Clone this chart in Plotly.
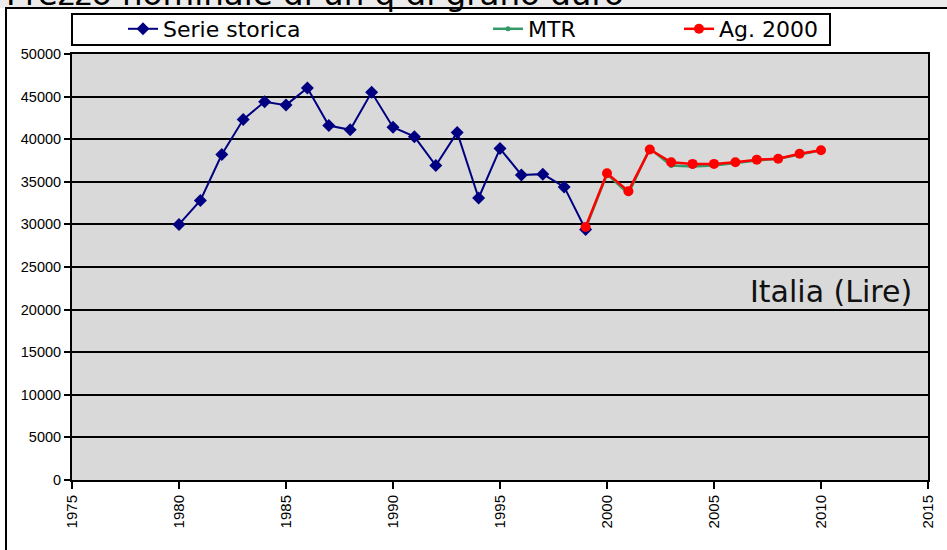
import plotly.graph_objects as go

years_hist = list(range(1980, 2000))
serie_storica = [30000, 32800, 38200, 42300, 44400, 44000, 46000, 41600, 41100, 45500,
                 41400, 40300, 36900, 40800, 33100, 38900, 35800, 35900, 34400, 29400]

years_fore = list(range(1999, 2011))
mtr = [29500, 35900, 33600, 38900, 36900, 36800, 36900, 37200, 37500, 37700, 38200, 38700]
ag2000 = [29700, 36000, 33900, 38800, 37300, 37100, 37100, 37300, 37600, 37700, 38300, 38700]

x_ticks = list(range(1975, 2016, 5))
y_ticks = list(range(0, 50001, 5000))

title_text = "Prezzo nominale di un q di grano duro"
region_text = "Italia (Lire)"

W, H = 947, 550
L, R, T, B = 72, 928, 54, 480
pw, ph = R - L, B - T


def px(x):
    return (x - L) / pw


def py(y):
    return (B - y) / ph


fig = go.Figure()

fig.add_trace(go.Scatter(
    x=years_hist, y=serie_storica, name="Serie storica", mode="lines+markers",
    line=dict(color="#000080", width=2),
    marker=dict(symbol="diamond", size=10, color="#000080"),
    legend="legend"))

fig.add_trace(go.Scatter(
    x=years_fore, y=mtr, name="MTR", mode="lines+markers",
    line=dict(color="#339966", width=2.5),
    marker=dict(symbol="circle", size=5, color="#339966"),
    legend="legend2"))

fig.add_trace(go.Scatter(
    x=years_fore, y=ag2000, name="Ag. 2000", mode="lines+markers",
    line=dict(color="#ff0000", width=2.5),
    marker=dict(symbol="circle", size=10, color="#ff0000"),
    legend="legend3"))

legend_font = dict(family="DejaVu Sans", size=22, color="black")
leg_common = dict(orientation="h", xanchor="left", yanchor="middle",
                  bgcolor="rgba(0,0,0,0)", borderwidth=0, font=legend_font,
                  itemwidth=30)

shapes = [
    # gray strip at top
    dict(type="rect", xref="paper", yref="paper", x0=px(-5), x1=px(960),
         y0=py(8), y1=py(-5), fillcolor="#ebebeb", line=dict(width=0), layer="below"),
    # outer frame
    dict(type="rect", xref="paper", yref="paper", x0=px(6), x1=px(970),
         y0=py(570), y1=py(8), fillcolor="rgba(0,0,0,0)",
         line=dict(color="black", width=2)),
    # legend box
    dict(type="rect", xref="paper", yref="paper", x0=px(72), x1=px(830),
         y0=py(45), y1=py(14), fillcolor="white",
         line=dict(color="black", width=2)),
]

annotations = [
    dict(text=title_text, xref="paper", yref="paper", x=px(4), y=py(-6),
         xanchor="left", yanchor="middle", showarrow=False,
         font=dict(family="DejaVu Sans", size=32.5, color="black")),
    dict(text=region_text, xref="paper", yref="paper", x=px(914), y=py(291),
         xanchor="right", yanchor="middle", showarrow=False,
         font=dict(family="DejaVu Sans", size=30, color="#111111")),
]

fig.update_layout(
    width=W, height=H,
    margin=dict(l=L, r=W - R, t=T, b=H - B, autoexpand=False),
    paper_bgcolor="white",
    plot_bgcolor="#d9d9d9",
    showlegend=True,
    legend=dict(x=px(123), y=py(29), **leg_common),
    legend2=dict(x=px(488), y=py(29), **leg_common),
    legend3=dict(x=px(679), y=py(29), **leg_common),
    shapes=shapes,
    annotations=annotations,
)

fig.update_xaxes(
    range=[1975, 2015], tickvals=x_ticks, ticktext=[str(v) for v in x_ticks],
    tickangle=-90, ticks="outside", ticklen=7, tickwidth=2, tickcolor="black",
    showgrid=False, zeroline=False, showline=True, linecolor="black", linewidth=2,
    mirror=True, automargin=False,
    tickfont=dict(family="Liberation Sans", size=15, color="black"))

fig.update_yaxes(
    range=[0, 50000], tickvals=y_ticks, ticktext=[str(v) for v in y_ticks],
    ticks="outside", ticklen=6, tickwidth=2, tickcolor="black",
    showgrid=True, gridcolor="black", gridwidth=2, zeroline=False,
    showline=True, linecolor="black", linewidth=2, mirror=True, automargin=False,
    tickfont=dict(family="Liberation Sans", size=14.5, color="black"))

fig.write_html("out.html",
               config={"displayModeBar": False},
               post_script="document.body.style.margin='0';document.body.style.overflow='hidden';")
